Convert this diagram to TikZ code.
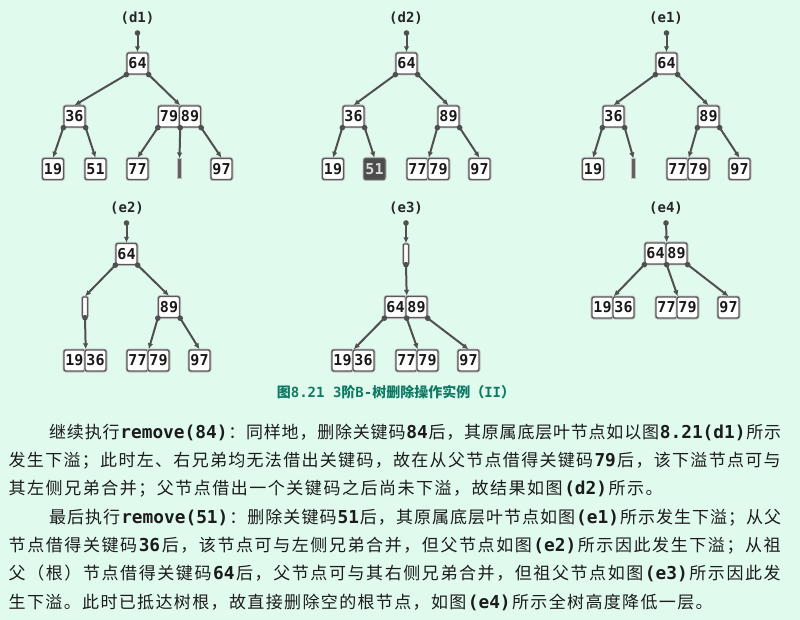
\documentclass[tikz,border=0pt]{standalone}
\usepackage{fontspec}
\usetikzlibrary{arrows.meta}
\setmainfont{Noto Sans CJK SC}
\newfontfamily\monofam{DejaVu Sans Mono}
% stretchable glue between CJK characters (for justified lines)
\XeTeXinterchartokenstate=1
\newcount\cjkc
\cjkc="3000
\loop\ifnum\cjkc<"A000 \XeTeXcharclass\cjkc=9 \advance\cjkc 1 \repeat
\cjkc="FF00
\loop\ifnum\cjkc<"FFF0 \XeTeXcharclass\cjkc=9 \advance\cjkc 1 \repeat
\XeTeXinterchartoks 9 9 = {\hskip 0pt plus 1pt\relax}
\newcommand\cd[1]{\hskip0pt plus 1pt{\monofam\bfseries\fontsize{17.8}{20}\selectfont #1}\hskip0pt plus 1pt}
\newcommand\cdc[1]{{\monofam\bfseries\fontsize{14}{16}\selectfont #1}}
\definecolor{bgmint}{RGB}{224,250,238}
\definecolor{edgecol}{RGB}{80,80,80}
\definecolor{keyborder}{RGB}{90,90,90}
\definecolor{captcol}{RGB}{14,122,100}
\definecolor{bodycol}{RGB}{28,28,28}
\tikzset{
  key/.style={draw=keyborder, line width=1.4pt, fill=white, rounded corners=2pt,
    preaction={draw=black!25, line width=3pt},
    minimum width=21pt, minimum height=21pt, inner sep=0pt,
    font=\monofam\bfseries\fontsize{15}{15}\selectfont, text=black!90},
  darkkey/.style={key, fill=black!70, text=white!85!black},
  eleaf/.style={draw=black!25, line width=1pt, fill=black!62,
    minimum width=4pt, minimum height=20pt, inner sep=0pt},
  eint/.style={draw=keyborder, line width=1.4pt, fill=white, rounded corners=1pt,
    preaction={draw=black!25, line width=2.8pt},
    minimum width=5pt, minimum height=20pt, inner sep=0pt},
  tlabel/.style={inner sep=0pt, font=\monofam\bfseries\fontsize{14}{14}\selectfont, text=black!85},
  link/.style={draw=edgecol, line width=2pt, -{Latex[length=6pt,width=5.5pt]}},
  bodyline/.style={anchor=base west, inner sep=0pt, text=bodycol, font=\fontsize{17}{20}\selectfont},
}
\newcommand\pdot[1]{\fill[edgecol] (#1) circle (2.8pt);}
\begin{document}
\begin{tikzpicture}[x=1pt,y=-1pt]
\useasboundingbox (0,0) rectangle (800,620);
\fill[bgmint] (0,0) rectangle (800,620);

% ---------------- (d1)
\node[tlabel] (d1lab) at (137.5,18) {(d1)};
\coordinate (d1top) at (137.5,33);
\node[key] (d1r) at (137.5,63.5) {64};
\node[key] (d1a) at (74.5,116.5) {36};
\node[key] (d1b) at (169,116.5) {79};
\node[key] (d1c) at (190,116.5) {89};
\node[key] (d1l1) at (53,169) {19};
\node[key] (d1l2) at (95.5,169) {51};
\node[key] (d1l3) at (137.5,169) {77};
\node[eleaf] (d1l4) at (179.5,169) {};
\node[key] (d1l5) at (221.5,169) {97};
\draw[link] (d1top) -- (d1r.north);
\draw[link] (d1r.south west) -- (d1a.north);
\draw[link] (d1r.south east) -- (d1b.north east);
\draw[link] (d1a.south west) -- (d1l1.north);
\draw[link] (d1a.south east) -- (d1l2.north);
\draw[link] (d1b.south west) -- (d1l3.north);
\draw[link] (d1b.south east) -- (d1l4.north);
\draw[link] (d1c.south east) -- (d1l5.north);
\pdot{d1top}\pdot{d1r.south west}\pdot{d1r.south east}
\pdot{d1a.south west}\pdot{d1a.south east}
\pdot{d1b.south west}\pdot{d1b.south east}\pdot{d1c.south east}

% ---------------- (d2)
\node[tlabel] (d2lab) at (406,18) {(d2)};
\coordinate (d2top) at (406.5,33);
\node[key] (d2r) at (406.5,63.5) {64};
\node[key] (d2a) at (353.5,116.5) {36};
\node[key] (d2b) at (448.5,116.5) {89};
\node[key] (d2l1) at (333,169) {19};
\node[darkkey] (d2l2) at (374.5,169) {51};
\node[key] (d2l3) at (417.5,169) {77};
\node[key] (d2l4) at (438.5,169) {79};
\node[key] (d2l5) at (479.5,169) {97};
\draw[link] (d2top) -- (d2r.north);
\draw[link] (d2r.south west) -- (d2a.north);
\draw[link] (d2r.south east) -- (d2b.north);
\draw[link] (d2a.south west) -- (d2l1.north);
\draw[link] (d2a.south east) -- (d2l2.north);
\draw[link] (d2b.south west) -- (d2l3.north east);
\draw[link] (d2b.south east) -- (d2l5.north);
\pdot{d2top}\pdot{d2r.south west}\pdot{d2r.south east}
\pdot{d2a.south west}\pdot{d2a.south east}
\pdot{d2b.south west}\pdot{d2b.south east}

% ---------------- (e1)
\node[tlabel] (e1lab) at (666,18) {(e1)};
\coordinate (e1top) at (666.5,33);
\node[key] (e1r) at (666.5,63.5) {64};
\node[key] (e1a) at (613.5,116.5) {36};
\node[key] (e1b) at (708.5,116.5) {89};
\node[key] (e1l1) at (593,169) {19};
\node[eleaf] (e1l2) at (633.5,169) {};
\node[key] (e1l3) at (677.5,169) {77};
\node[key] (e1l4) at (698.5,169) {79};
\node[key] (e1l5) at (739.5,169) {97};
\draw[link] (e1top) -- (e1r.north);
\draw[link] (e1r.south west) -- (e1a.north);
\draw[link] (e1r.south east) -- (e1b.north);
\draw[link] (e1a.south west) -- (e1l1.north);
\draw[link] (e1a.south east) -- (e1l2.north);
\draw[link] (e1b.south west) -- (e1l3.north east);
\draw[link] (e1b.south east) -- (e1l5.north);
\pdot{e1top}\pdot{e1r.south west}\pdot{e1r.south east}
\pdot{e1a.south west}\pdot{e1a.south east}
\pdot{e1b.south west}\pdot{e1b.south east}

% ---------------- (e2)
\node[tlabel] (e2lab) at (127,208) {(e2)};
\coordinate (e2top) at (126.5,223);
\node[key] (e2r) at (126.5,254) {64};
\node[eint] (e2a) at (85,307) {};
\node[key] (e2b) at (169,307) {89};
\node[key] (e2l1) at (74.5,360.5) {19};
\node[key] (e2l2) at (95.5,360.5) {36};
\node[key] (e2l3) at (137.5,360.5) {77};
\node[key] (e2l4) at (158.5,360.5) {79};
\node[key] (e2l5) at (199.5,360.5) {97};
\draw[link] (e2top) -- (e2r.north);
\draw[link] (e2r.south west) -- (e2a.north);
\draw[link] (e2r.south east) -- (e2b.north);
\draw[link] (e2a.south) -- (e2l1.north east);
\draw[link] (e2b.south west) -- (e2l3.north east);
\draw[link] (e2b.south east) -- (e2l5.north);
\pdot{e2top}\pdot{e2r.south west}\pdot{e2r.south east}
\pdot{e2a.south}\pdot{e2b.south west}\pdot{e2b.south east}

% ---------------- (e3)
\node[tlabel] (e3lab) at (406,208) {(e3)};
\coordinate (e3top) at (406,223);
\node[eint] (e3r) at (406,254) {};
\node[key] (e3a) at (395.5,307) {64};
\node[key] (e3b) at (416.5,307) {89};
\node[key] (e3l1) at (342.5,360.5) {19};
\node[key] (e3l2) at (363.5,360.5) {36};
\node[key] (e3l3) at (406.5,360.5) {77};
\node[key] (e3l4) at (427.5,360.5) {79};
\node[key] (e3l5) at (468.5,360.5) {97};
\draw[link] (e3top) -- (e3r.north);
\draw[link] (e3r.south) -- (e3a.north east);
\draw[link] (e3a.south west) -- (e3l1.north east);
\draw[link] (e3a.south east) -- (e3l3.north east);
\draw[link] (e3b.south east) -- (e3l5.north);
\pdot{e3top}\pdot{e3r.south}\pdot{e3a.south west}\pdot{e3a.south east}\pdot{e3b.south east}

% ---------------- (e4)
\node[tlabel] (e4lab) at (666,208) {(e4)};
\coordinate (e4top) at (666,223);
\node[key] (e4a) at (655.5,253.5) {64};
\node[key] (e4b) at (676.5,253.5) {89};
\node[key] (e4l1) at (602.5,307.5) {19};
\node[key] (e4l2) at (623.5,307.5) {36};
\node[key] (e4l3) at (666.5,307.5) {77};
\node[key] (e4l4) at (687.5,307.5) {79};
\node[key] (e4l5) at (728.5,307.5) {97};
\draw[link] (e4top) -- (e4a.north east);
\draw[link] (e4a.south west) -- (e4l1.north east);
\draw[link] (e4a.south east) -- (e4l3.north east);
\draw[link] (e4b.south east) -- (e4l5.north);
\pdot{e4top}\pdot{e4a.south west}\pdot{e4a.south east}\pdot{e4b.south east}

% ---------------- caption
\node[anchor=base, inner sep=0pt, text=captcol, font=\bfseries\fontsize{14}{16}\selectfont] (cap) at (396,397) {图\cdc{8.21 3}阶\cdc{B-}树删除操作实例（\cdc{II}）};

% ---------------- body text
\node[bodyline] (p1a) at (49,438.2) {\hbox to 732pt{继续执行\cd{remove(84)}：同样地，删除关键码\cd{84}后，其原属底层叶节点如以图\cd{8.21(d1)}所示}};
\node[bodyline] (p1b) at (8.5,466.5) {\hbox to 772pt{发生下溢；此时左、右兄弟均无法借出关键码，故在从父节点借得关键码\cd{79}后，该下溢节点可与}};
\node[bodyline] (p1c) at (8.5,494.8) {\hbox to 654pt{其左侧兄弟合并；父节点借出一个关键码之后尚未下溢，故结果如图\cd{(d2)}所示。}};
\node[bodyline] (p2a) at (49,523.2) {\hbox to 732pt{最后执行\cd{remove(51)}：删除关键码\cd{51}后，其原属底层叶节点如图\cd{(e1)}所示发生下溢；从父}};
\node[bodyline] (p2b) at (8.5,551.5) {\hbox to 772pt{节点借得关键码\cd{36}后，该节点可与左侧兄弟合并，但父节点如图\cd{(e2)}所示因此发生下溢；从祖}};
\node[bodyline] (p2c) at (8.5,579.8) {\hbox to 772pt{父（根）节点借得关键码\cd{64}后，父节点可与其右侧兄弟合并，但祖父节点如图\cd{(e3)}所示因此发}};
\node[bodyline] (p2d) at (8.5,608.2) {\hbox to 704pt{生下溢。此时已抵达树根，故直接删除空的根节点，如图\cd{(e4)}所示全树高度降低一层。}};
\end{tikzpicture}
\end{document}
